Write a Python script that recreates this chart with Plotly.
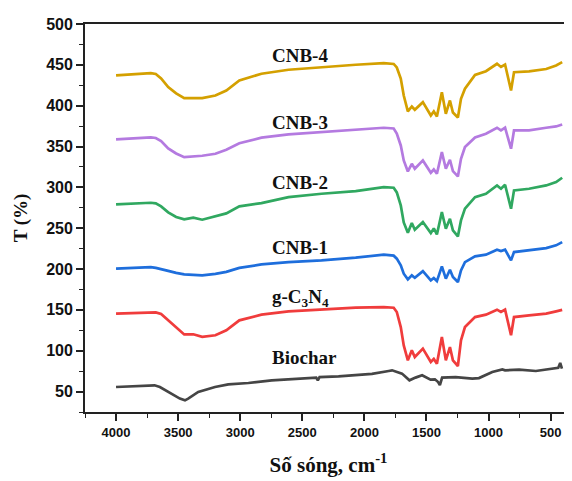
import plotly.graph_objects as go

# Shared wavenumber grid (cm^-1) for the g-C3N4-containing spectra
wavenumber = [4000, 3720, 3680, 3637, 3580, 3516, 3451, 3378, 3306, 3200, 3112, 3007,
              2829, 2611, 2345, 2070, 1844, 1764, 1739, 1707, 1683, 1650, 1618, 1594,
              1529, 1465, 1441, 1416, 1376, 1344, 1311, 1287, 1247, 1222, 1190, 1109,
              1021, 932, 900, 867, 819, 795, 674, 536, 456, 407]

t_cnb4 = [437.0, 439.8, 438.8, 433.3, 422.7, 415.0, 409.2, 409.5, 409.2, 412.5, 418.6, 430.9,
          439.1, 444.0, 447.1, 450.1, 452.0, 451.1, 446.8, 433.3, 412.5, 393.0, 399.0, 395.0,
          404.3, 388.0, 393.0, 386.8, 416.5, 390.1, 406.4, 391.7, 385.6, 408.5, 420.7, 437.6,
          442.2, 451.3, 447.4, 450.4, 418.6, 441.0, 441.9, 444.9, 449.2, 453.3]

t_cnb3 = [358.7, 361.1, 360.5, 356.8, 347.7, 341.5, 337.0, 337.9, 338.7, 341.2, 346.1, 354.1,
          360.8, 364.8, 367.6, 370.5, 373.0, 372.1, 366.0, 351.3, 333.0, 319.5, 328.9, 322.8,
          333.0, 317.9, 321.9, 316.7, 343.1, 322.8, 333.8, 319.9, 313.4, 335.0, 349.3, 361.1,
          365.6, 373.0, 369.7, 373.0, 347.3, 369.7, 369.7, 373.0, 374.6, 377.0]

t_cnb2 = [279.1, 281.2, 280.4, 276.7, 269.4, 263.8, 260.8, 262.9, 260.4, 264.5, 268.1, 276.7,
          280.7, 288.1, 292.2, 295.4, 300.3, 299.6, 293.8, 277.9, 257.1, 244.5, 256.3, 248.2,
          257.5, 244.0, 249.8, 242.4, 269.7, 249.4, 261.6, 247.3, 240.0, 259.6, 273.9, 288.1,
          292.2, 302.4, 298.3, 303.2, 273.9, 296.3, 298.3, 302.4, 306.4, 311.8]

t_cnb1 = [200.5, 202.4, 201.4, 200.2, 197.8, 195.3, 193.5, 192.9, 192.3, 194.1, 196.5, 201.4,
          205.7, 208.5, 210.6, 213.9, 217.6, 216.4, 212.7, 204.5, 194.3, 187.4, 192.3, 189.4,
          197.5, 186.1, 189.0, 185.3, 203.3, 188.2, 199.2, 190.2, 184.1, 198.4, 208.5, 215.5,
          217.6, 223.7, 222.0, 223.7, 210.6, 220.8, 222.9, 225.7, 229.0, 233.0]

t_gc3n4 = [145.4, 147.4, 147.0, 145.0, 137.0, 129.0, 120.0, 120.1, 117.0, 118.9, 125.0, 137.2,
           144.2, 148.2, 150.3, 152.7, 153.5, 152.7, 147.4, 129.0, 106.6, 88.3, 100.5, 92.3,
           102.6, 86.2, 90.0, 84.2, 116.8, 88.3, 104.5, 88.3, 81.3, 112.7, 129.0, 141.2,
           144.2, 150.3, 147.4, 150.3, 118.9, 141.2, 143.3, 145.4, 148.2, 150.0]

# Biochar has its own grid
wavenumber_biochar = [4000, 3690, 3647, 3566, 3486, 3445, 3419, 3338, 3203, 3096, 2934, 2746,
                      2476, 2388, 2375, 2361, 2208, 1939, 1804, 1777, 1697, 1637, 1588, 1535,
                      1467, 1432, 1406, 1392, 1374, 1265, 1131, 1077, 970, 889, 867, 754,
                      619, 485, 439, 423, 409]
t_biochar = [55.6, 57.7, 55.6, 48.3, 41.4, 39.3, 41.4, 49.5, 55.6, 58.9, 60.5, 63.8,
             66.6, 67.2, 63.8, 67.8, 68.7, 71.7, 75.2, 76.0, 72.0, 63.8, 67.1, 70.0,
             64.6, 65.0, 61.7, 58.0, 67.1, 67.8, 65.9, 66.5, 74.0, 77.2, 76.0, 76.9,
             75.2, 77.6, 79.0, 85.0, 78.0]

series = [
    ("Biochar", wavenumber_biochar, t_biochar, "#454545"),
    ("g-C3N4", wavenumber, t_gc3n4, "#F03C3C"),
    ("CNB-1", wavenumber, t_cnb1, "#1E6EDC"),
    ("CNB-2", wavenumber, t_cnb2, "#30A860"),
    ("CNB-3", wavenumber, t_cnb3, "#B47AE0"),
    ("CNB-4", wavenumber, t_cnb4, "#D4A000"),
]

label_texts = ["Biochar", "g-C<sub>3</sub>N<sub>4</sub>", "CNB-1", "CNB-2", "CNB-3", "CNB-4"]
label_y = [91.6, 164.5, 226.9, 305.7, 379.9, 461.5]
label_x = 2760

fig = go.Figure()
for name, x, y, c in series:
    fig.add_trace(go.Scatter(x=x, y=y, mode="lines", name=name,
                             line=dict(color=c, width=2.7), showlegend=False))

for txt, ly in zip(label_texts, label_y):
    fig.add_annotation(x=label_x, y=ly, xref="x", yref="y", text="<b>" + txt + "</b>",
                       showarrow=False, xanchor="left", yanchor="middle",
                       font=dict(family="Liberation Serif", size=19, color="#111"))

axis_color = "#222"
fig.update_layout(
    width=564, height=473,
    margin=dict(l=77, r=0, t=15.5, b=69.3, autoexpand=False),
    paper_bgcolor="white", plot_bgcolor="white",
    xaxis=dict(range=[4250, 328], autorange=False, showgrid=False, zeroline=False,
               showline=True, linecolor=axis_color, linewidth=1.8, mirror=True,
               ticks="outside", ticklen=7, tickwidth=1.5, tickcolor=axis_color,
               tickvals=[4000, 3500, 3000, 2500, 2000, 1500, 1000, 500],
               ticktext=["<b>%d</b>" % v for v in [4000, 3500, 3000, 2500, 2000, 1500, 1000, 500]],
               tickfont=dict(family="Liberation Sans", size=13, color="#111"),
               minor=dict(dtick=250, tick0=0, ticks="outside", ticklen=4, tickwidth=1.2,
                          tickcolor=axis_color, showgrid=False),
               title=dict(text="<b>Số sóng, cm<sup>-1</sup></b>", standoff=19,
                          font=dict(family="Liberation Serif", size=21, color="#111"))),
    yaxis=dict(range=[25, 500], autorange=False, showgrid=False, zeroline=False,
               showline=True, linecolor=axis_color, linewidth=1.8,
               ticks="outside", ticklen=7, tickwidth=1.5, tickcolor=axis_color,
               tickvals=[50, 100, 150, 200, 250, 300, 350, 400, 450, 500],
               ticktext=["<b>%d</b>" % v for v in [50, 100, 150, 200, 250, 300, 350, 400, 450, 500]],
               tickfont=dict(family="Liberation Sans", size=16, color="#111"),
               minor=dict(dtick=25, tick0=0, ticks="outside", ticklen=4, tickwidth=1.2,
                          tickcolor=axis_color, showgrid=False),
               title=dict(text="<b>T (%)</b>", standoff=14,
                          font=dict(family="Liberation Serif", size=19, color="#111"))),
)

fig.write_html("out.html")
